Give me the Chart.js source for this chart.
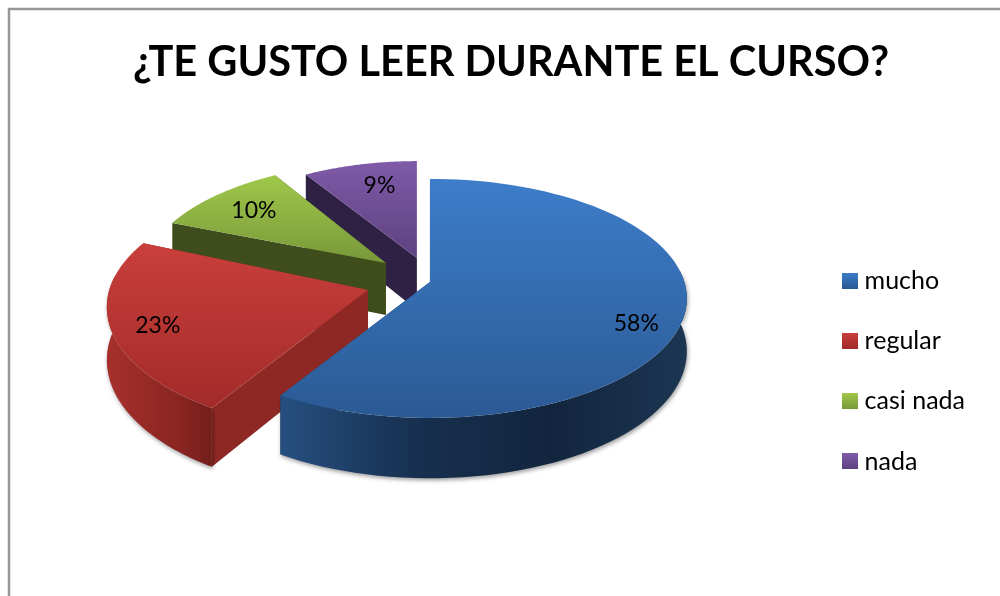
<!DOCTYPE html>
<html>
<head>
<meta charset="utf-8">
<title>Grafico</title>
<script src="https://cdn.jsdelivr.net/npm/chart.js@4/dist/chart.umd.js"></script>
<style>
    html, body { margin: 0; padding: 0; background: #fff; overflow: hidden; }
    canvas { display: block; }
</style>
</head>
<body>
<canvas id="chartLectura" width="1000" height="596"></canvas>
<script>
var titulo = '¿TE GUSTO LEER DURANTE EL CURSO?';
var categorias = ['mucho', 'regular', 'casi nada', 'nada'];
var valores = [58, 23, 10, 9];

// estilo de cada porcion (mismo orden que categorias)
var coloresCara = [['#3d7dca', '#2b5a94'], ['#c93f3b', '#a22b29'], ['#a0c84a', '#78983a'], ['#7f5aa8', '#5e4280']];
var coloresPared = ['#1a3452', '#8e2824', '#3f4d1c', '#2f2144'];
var coloresBorde = [
    ['#264f80', '#17304f', '#12253e', '#1c3652'],
    ['#a8302c', '#982a27', '#8a2522', '#741f1c'],
    ['#3f4d1c', '#3f4d1c', '#3f4d1c', '#3f4d1c'],
    ['#2f2144', '#2f2144', '#2f2144', '#2f2144']
];
var orden = [3, 2, 1, 0];
// vertice relativo al centro del pie, radios relativos a outerRadius
var desplazamiento = [[0, -11], [-62, -3], [-44, -30], [-13, -35]];
var radioX = [1.437, 1.46, 1.363, 1.307];
var radioY = [0.662, 0.696, 0.645, 0.622];
var ajusteAngulo = [[0, 2.4], [3.4, 2], [0, 1.5], [0, 0]];
var fraccionEtiqueta = [0.81, 0.83, 0.8, 0.72];
var corrimientoEtiqueta = [[1, 17], [0, 0], [7, 2], [5, -3]];
var perspectiva = 0.138;
var profundidad = 52;

function proyectar(c, ang, f, h) {
    var u = Math.cos(ang) * f;
    var v = Math.sin(ang) * f;
    var w = 1 - perspectiva * v;
    return { x: c.x + c.rx * u / w, y: c.y + c.ry * v / w + h / w };
}

function trazar(ctx, puntos) {
    ctx.beginPath();
    puntos.forEach(function (p, i) {
        if (i === 0) ctx.moveTo(p.x, p.y);
        else ctx.lineTo(p.x, p.y);
    });
    ctx.closePath();
}

function geometria(el, i) {
    var rad = Math.PI / 180;
    return {
        x: el.x + desplazamiento[i][0],
        y: el.y + desplazamiento[i][1],
        rx: el.outerRadius * radioX[i],
        ry: el.outerRadius * radioY[i],
        ini: el.startAngle + ajusteAngulo[i][0] * rad,
        fin: el.endAngle + ajusteAngulo[i][1] * rad
    };
}

function dibujarPorcion(ctx, el, i) {
    var c = geometria(el, i);
    var pasos = 90;
    var arriba = [], frenteA = [], frenteB = [];
    for (var n = 0; n <= pasos; n++) {
        var a = c.ini + (c.fin - c.ini) * n / pasos;
        arriba.push(proyectar(c, a, 1, 0));
        // la pared exterior solo se ve por delante
        if (Math.sin(a) > -0.12) {
            frenteA.push(proyectar(c, a, 1, 0));
            frenteB.push(proyectar(c, a, 1, profundidad));
        }
    }
    var vertice = proyectar(c, 0, 0, 0);
    var verticeAbajo = proyectar(c, 0, 0, profundidad);
    var xs = arriba.map(function (p) { return p.x; });
    var ys = arriba.map(function (p) { return p.y; }).concat(vertice.y);

    // paredes radiales
    ctx.fillStyle = coloresPared[i];
    trazar(ctx, [vertice, arriba[0], proyectar(c, c.ini, 1, profundidad), verticeAbajo]);
    ctx.fill();
    trazar(ctx, [vertice, arriba[pasos], proyectar(c, c.fin, 1, profundidad), verticeAbajo]);
    ctx.fill();

    // pared exterior
    if (frenteA.length) {
        var xMin = Math.min.apply(null, xs), xMax = Math.max.apply(null, xs);
        var gradBorde = ctx.createLinearGradient(xMin, 0, xMax, 0);
        coloresBorde[i].forEach(function (col, n) { gradBorde.addColorStop(n / 3, col); });
        ctx.fillStyle = gradBorde;
        ctx.save();
        ctx.shadowColor = 'rgba(0,0,0,0.4)';
        ctx.shadowBlur = 4;
        ctx.shadowOffsetX = 1;
        ctx.shadowOffsetY = 2;
        trazar(ctx, frenteA.concat(frenteB.reverse()));
        ctx.fill();
        ctx.restore();
    }

    // cara superior
    var grad = ctx.createLinearGradient(0, Math.min.apply(null, ys), 0, Math.max.apply(null, ys));
    grad.addColorStop(0, coloresCara[i][0]);
    grad.addColorStop(1, coloresCara[i][1]);
    ctx.fillStyle = grad;
    trazar(ctx, [vertice].concat(arriba));
    ctx.fill();
}

var pluginPie3d = {
    id: 'pie3d',
    afterLayout: function (chart) {
        // la leyenda va mas abajo que el centro del pie
        chart.legend.top += 136;
        chart.legend.bottom += 136;
    },
    beforeDraw: function (chart) {
        var ctx = chart.ctx;
        ctx.save();
        ctx.fillStyle = '#fff';
        ctx.fillRect(0, 0, chart.width, chart.height);
        ctx.strokeStyle = '#969696';
        ctx.lineWidth = 2.5;
        ctx.strokeRect(9, 9, chart.width + 50, chart.height + 50);
        ctx.restore();
    },
    beforeDatasetsDraw: function (chart) {
        var ctx = chart.ctx;
        var arcos = chart.getDatasetMeta(0).data;
        ctx.save();
        orden.forEach(function (i) { dibujarPorcion(ctx, arcos[i], i); });

        ctx.fillStyle = '#000';
        ctx.font = '23px Lato';
        ctx.textAlign = 'center';
        ctx.textBaseline = 'middle';
        arcos.forEach(function (el, i) {
            var c = geometria(el, i);
            var p = proyectar(c, (el.startAngle + el.endAngle) / 2, fraccionEtiqueta[i], 0);
            ctx.fillText(valores[i] + '%', p.x + corrimientoEtiqueta[i][0], p.y + corrimientoEtiqueta[i][1]);
        });
        ctx.restore();
        return false;
    }
};

function cuadroLeyenda(colores) {
    var c = document.createElement('canvas');
    c.width = 16;
    c.height = 16;
    var g = c.getContext('2d');
    var grad = g.createLinearGradient(0, 0, 0, 16);
    grad.addColorStop(0, colores[0]);
    grad.addColorStop(1, colores[1]);
    g.fillStyle = grad;
    g.fillRect(0, 0, 16, 16);
    return c;
}

new Chart(document.getElementById('chartLectura'), {
    type: 'pie',
    data: {
        labels: categorias,
        datasets: [{
            data: valores,
            backgroundColor: coloresCara.map(function (x) { return x[0]; }),
            borderWidth: 0
        }]
    },
    plugins: [pluginPie3d],
    options: {
        responsive: false,
        animation: false,
        layout: { padding: { left: 47, right: 25, top: 0, bottom: 126 } },
        plugins: {
            tooltip: { enabled: false },
            title: {
                display: true,
                text: titulo,
                color: '#000',
                font: { family: 'Lato', size: 41.5, weight: 'bold' },
                padding: { top: 38, bottom: 28 }
            },
            legend: {
                position: 'right',
                labels: {
                    color: '#000',
                    font: { family: 'Lato', size: 25 },
                    usePointStyle: true,
                    pointStyleWidth: 4,
                    boxHeight: 16,
                    padding: 35.33,
                    generateLabels: function (chart) {
                        var base = Chart.overrides.pie.plugins.legend.labels.generateLabels(chart);
                        return base.map(function (item, i) {
                            item.pointStyle = cuadroLeyenda(coloresCara[i]);
                            return item;
                        });
                    }
                }
            }
        }
    }
});
</script>
</body>
</html>
